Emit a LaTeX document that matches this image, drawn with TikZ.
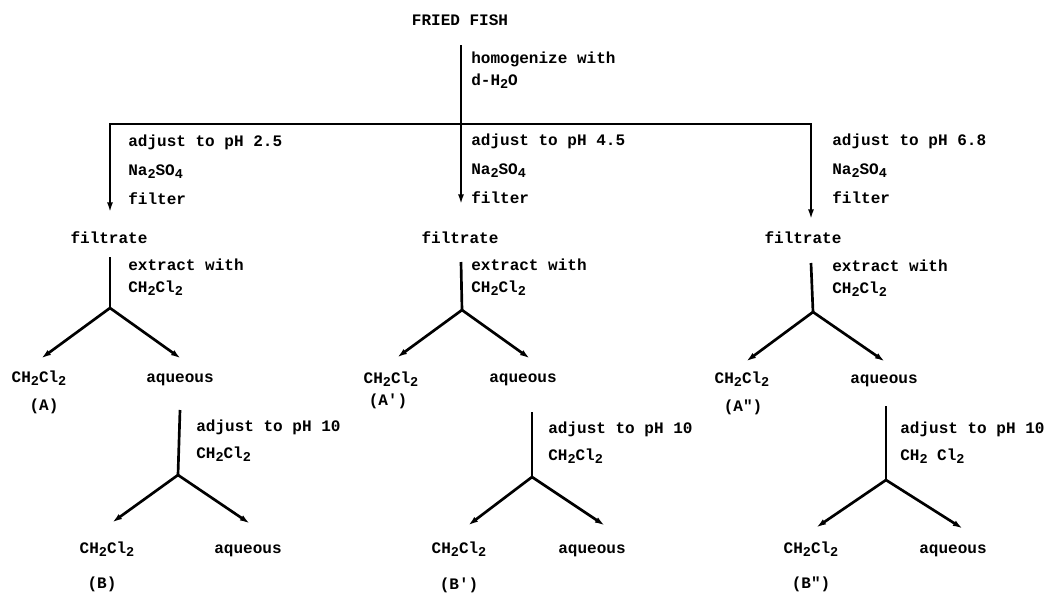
\documentclass[tikz,border=0pt]{standalone}
\usepackage{fontspec}
\setmonofont{Liberation Mono}
\usetikzlibrary{arrows.meta}
\newcommand{\dn}[1]{\raisebox{-2.6pt}{\fontsize{9.6}{10}\selectfont#1}}
\newcommand{\chcl}{CH\dn{2}Cl\dn{2}}

\begin{document}
\begin{tikzpicture}[
  x=0.025cm, y=-0.025cm,
  lbl/.style={anchor=base west, align=left, inner sep=0pt, font=\fontsize{11.4}{15.5}\selectfont\ttfamily\bfseries},
  prod/.style={anchor=base, inner sep=0pt, font=\fontsize{11.4}{15.5}\selectfont\ttfamily\bfseries},
  ln/.style={line width=1.9pt},
  arr/.style={ln, -{Latex[length=9pt,width=4pt]}}
]
  \useasboundingbox (0,0) rectangle (1048,594);

  \node[prod] (fish) at (460,25) {FRIED FISH};
  \coordinate (top) at (461,45);
  \coordinate (split) at (461,124);
  \draw[ln] (top) -- (split);
  \node[lbl] (homog) at (471,85) {homogenize with\\d-H\dn{2}O};

  \coordinate (tL) at (110,215);
  \coordinate (tM) at (461,207);
  \coordinate (tR) at (811,222);
  \draw[arr] (split) -| (tL);
  \draw[arr] (split) -- (tM);
  \draw[arr] (split) -| (tR);

  \node[lbl] (adjL) at (128,204) {adjust to pH 2.5\\[5.1pt]Na\dn{2}SO\dn{4}\\[5.1pt]filter};
  \node[lbl] (adjM) at (471,203) {adjust to pH 4.5\\[5.1pt]Na\dn{2}SO\dn{4}\\[5.1pt]filter};
  \node[lbl] (adjR) at (832,203) {adjust to pH 6.8\\[5.1pt]Na\dn{2}SO\dn{4}\\[5.1pt]filter};

  \node[prod] (filL) at (109,243) {filtrate};
  \node[prod] (filM) at (460,243) {filtrate};
  \node[prod] (filR) at (803,243) {filtrate};

  % left column
  \coordinate (eL) at (110,257);
  \coordinate (bL) at (110,308);
  \draw[ln] (eL) -- (bL);
  \node[lbl] (extL) at (128,292) {extract with\\\chcl};
  \node[prod] (orgA) at (39,382) {\chcl};
  \node[prod] (labA) at (44,410) {(A)};
  \node[prod] (aqA) at (180,382) {aqueous};
  \coordinate (tOrgA) at (39,360);
  \coordinate (tAqA) at (183,360);
  \draw[arr] (bL) -- (tOrgA);
  \draw[arr] (bL) -- (tAqA);
  \coordinate (eA) at (180,410);
  \coordinate (bA) at (178,475);
  \draw[ln] (eA) -- (bA);
  \node[lbl] (phA) at (196,458) {adjust to pH 10\\[3pt]\chcl};
  \coordinate (tOrgB) at (110,524);
  \coordinate (tAqB) at (252,525);
  \draw[arr] (bA) -- (tOrgB);
  \draw[arr] (bA) -- (tAqB);
  \node[prod] (orgB) at (107,553) {\chcl};
  \node[prod] (aqB) at (248,553) {aqueous};
  \node[prod] (labB) at (102,588) {(B)};

  % middle column
  \coordinate (eM) at (461,262);
  \coordinate (bM) at (462,310);
  \draw[ln] (eM) -- (bM);
  \node[lbl] (extM) at (471,292) {extract with\\\chcl};
  \node[prod] (orgA1) at (391,383) {\chcl};
  \node[prod] (labA1) at (388,405) {(A\textquotesingle)};
  \node[prod] (aqA1) at (523,382) {aqueous};
  \coordinate (tOrgA1) at (395,359);
  \coordinate (tAqA1) at (532,360);
  \draw[arr] (bM) -- (tOrgA1);
  \draw[arr] (bM) -- (tAqA1);
  \coordinate (eA1) at (532,412);
  \coordinate (bA1) at (532,477);
  \draw[ln] (eA1) -- (bA1);
  \node[lbl] (phA1) at (548,460) {adjust to pH 10\\[3pt]\chcl};
  \coordinate (tOrgB1) at (466,527);
  \coordinate (tAqB1) at (607,527);
  \draw[arr] (bA1) -- (tOrgB1);
  \draw[arr] (bA1) -- (tAqB1);
  \node[prod] (orgB1) at (459,553) {\chcl};
  \node[prod] (aqB1) at (592,553) {aqueous};
  \node[prod] (labB1) at (459,589) {(B\textquotesingle)};

  % right column
  \coordinate (eR) at (811,263);
  \coordinate (bR) at (813,312);
  \draw[ln] (eR) -- (bR);
  \node[lbl] (extR) at (832,293) {extract with\\\chcl};
  \node[prod] (orgA2) at (742,383) {\chcl};
  \node[prod] (labA2) at (743,411) {(A")};
  \node[prod] (aqA2) at (884,383) {aqueous};
  \coordinate (tOrgA2) at (744,363);
  \coordinate (tAqA2) at (887,363);
  \draw[arr] (bR) -- (tOrgA2);
  \draw[arr] (bR) -- (tAqA2);
  \coordinate (eA2) at (886,406);
  \coordinate (bA2) at (886,480);
  \draw[ln] (eA2) -- (bA2);
  \node[lbl] (phA2) at (900,460) {adjust to pH 10\\[3pt]CH\dn{2} Cl\dn{2}};
  \coordinate (tOrgB2) at (814,529);
  \coordinate (tAqB2) at (965,530);
  \draw[arr] (bA2) -- (tOrgB2);
  \draw[arr] (bA2) -- (tAqB2);
  \node[prod] (orgB2) at (811,553) {\chcl};
  \node[prod] (aqB2) at (953,553) {aqueous};
  \node[prod] (labB2) at (811,588) {(B")};
\end{tikzpicture}
\end{document}
